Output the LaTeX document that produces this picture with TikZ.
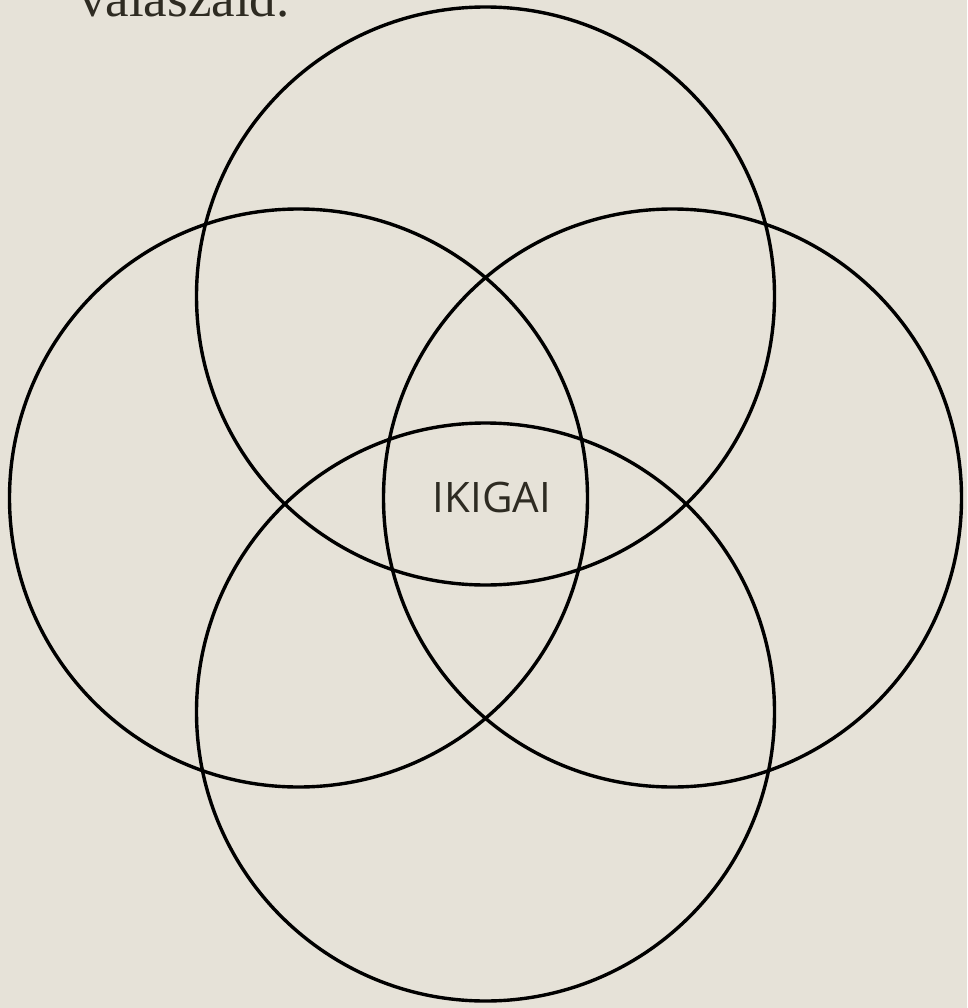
\documentclass[tikz,border=0pt]{standalone}
\usepackage{fontspec}
\setmainfont{Liberation Serif}
\newfontfamily\ikifont{Open Sans}
\definecolor{bg}{HTML}{E6E2D8}
\definecolor{ink}{HTML}{2E2B22}
\begin{document}
\begin{tikzpicture}[x=1pt,y=-1pt,
  ring/.style={draw=black,line width=3.4pt},
  label/.style={inner sep=0pt,text=ink}]
\fill[bg] (0,0) rectangle (967,1008);
\useasboundingbox (0,0) rectangle (967,1008);
\node[label,anchor=base west,font=\fontsize{53}{60}\selectfont] (title) at (79,17) {válaszaid.};
\node[ring,circle,minimum size=578pt,inner sep=0pt] (top) at (485.5,296) {};
\node[ring,circle,minimum size=578pt,inner sep=0pt] (left) at (298.5,498) {};
\node[ring,circle,minimum size=578pt,inner sep=0pt] (right) at (672.5,498) {};
\node[ring,circle,minimum size=578pt,inner sep=0pt] (bottom) at (485.5,712) {};
\node[label,font=\ikifont\fontsize{42}{48}\selectfont] (iki) at (492,497) {IKIGAI};
\end{tikzpicture}
\end{document}
